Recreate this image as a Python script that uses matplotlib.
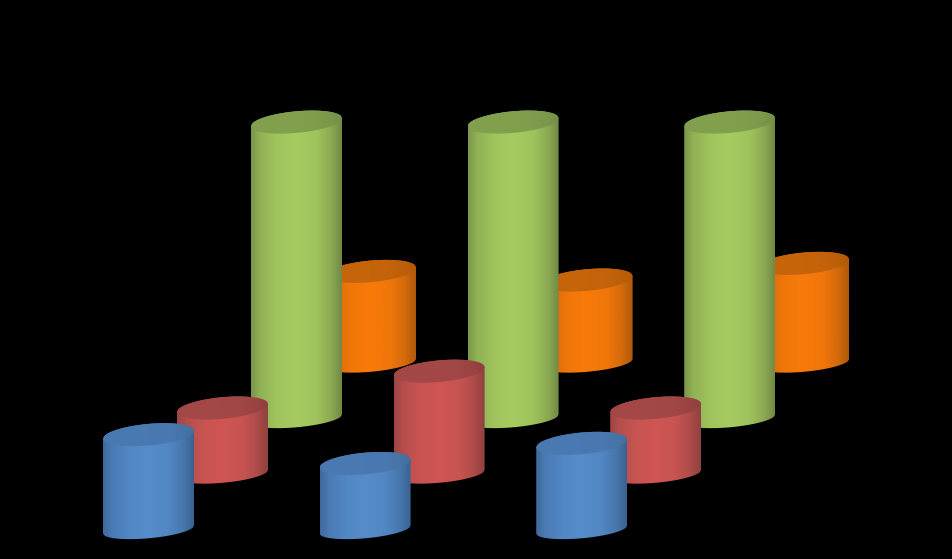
import numpy as np
import matplotlib
matplotlib.use('Agg')
import matplotlib.pyplot as plt
from matplotlib.patches import Polygon

# Values, one per category
categories = ['Category 1', 'Category 2', 'Category 3']
series_names = ['Series 1', 'Series 2', 'Series 3', 'Series 4']
series_1 = [2.9, 2.0, 2.63]
series_2 = [2.0, 3.15, 2.0]
series_3 = [9.2, 9.2, 9.2]
series_4 = [2.8, 2.53, 3.05]

# bright, dark left, dark right, cap colours
colors = {
    'Series 1': ('#558cca', '#3f6a9e', '#3a6392', '#4a79b2', '#44709f'),
    'Series 2': ('#cf5654', '#9c4644', '#904240', '#a34846', '#8f3f3d'),
    'Series 3': ('#a6cb60', '#7c974a', '#728a45', '#819f4d', '#758f47'),
    'Series 4': ('#f87a0a', '#bd6008', '#b05a0a', '#c6640a', '#b35a08'),
}

# Fake 3D layout in pixels
px_per_unit = 32
bar_w = 91
cat_step = 216.6
depth_dx = 74
depth_dy = -55.5
start_x = 103
start_y = 527.5
slope = 8 / 91
cap_b = 10.8
base_b = 8.8
base_shift = 2

# how far each column of the body is from its edge colour to the bright one
shade_t = [0, 0.1, 0.3, 0.5, 0.72, 0.88, 1]
shade_mix = [0, 0.5, 0.88, 1, 0.88, 0.5, 0]


def ellipse_half(cx, cy, lower, b=cap_b):
    dx = np.linspace(-bar_w / 2, bar_w / 2, 80)
    h = b * np.sqrt(1 - (dx / (bar_w / 2)) ** 2)
    y = cy - slope * dx + (h if lower else -h)
    return cx + dx, y


def gradient(c_left, c_mid, c_right):
    t = np.linspace(0, 1, 91)
    mix = np.interp(t, shade_t, shade_mix)
    left = np.array(matplotlib.colors.to_rgb(c_left))
    mid = np.array(matplotlib.colors.to_rgb(c_mid))
    right = np.array(matplotlib.colors.to_rgb(c_right))
    edge = np.where(t[:, None] < 0.5, left, right)
    return (edge + (mid - edge) * mix[:, None])[np.newaxis, :, :]


def cylinder(ax, left, base_y, value, cols, z):
    bright, dark_l, dark_r, cap_l, cap_r = cols
    cx = left + bar_w / 2
    top_y = base_y - value * px_per_unit

    # body
    bx, by = ellipse_half(cx, base_y + base_shift, True, base_b)
    tx, ty = ellipse_half(cx, top_y, False)
    body = np.vstack([np.column_stack([bx, by]), np.column_stack([tx, ty])[::-1]])
    im = ax.imshow(gradient(dark_l, bright, dark_r), extent=(left, left + bar_w, base_y + 20, top_y - 20),
                   aspect='auto', interpolation='bilinear', zorder=z)
    im.set_clip_path(Polygon(body, transform=ax.transData))

    # top cap
    lx, ly = ellipse_half(cx, top_y, True)
    cap = np.vstack([np.column_stack([lx, ly]), np.column_stack([tx, ty])[::-1]])
    im2 = ax.imshow(gradient(cap_l, cap_l, cap_r), extent=(left, left + bar_w, top_y + 20, top_y - 20),
                    aspect='auto', interpolation='bilinear', zorder=z + 0.5)
    im2.set_clip_path(Polygon(cap, transform=ax.transData))


fig = plt.figure(figsize=(9.52, 5.59), dpi=100, facecolor='black')
ax = fig.add_axes([0, 0, 1, 1])
ax.set_facecolor('black')

all_series = [series_1, series_2, series_3, series_4]
for s in range(len(all_series) - 1, -1, -1):
    for c in range(len(categories)):
        left = start_x + c * cat_step + s * depth_dx
        base = start_y + s * depth_dy
        cylinder(ax, left, base, all_series[s][c], colors[series_names[s]], 10 - s + c * 0.1)

ax.set_xlim(0, 952)
ax.set_ylim(559, 0)
ax.axis('off')
fig.savefig('out.png', dpi=100, facecolor='black')
